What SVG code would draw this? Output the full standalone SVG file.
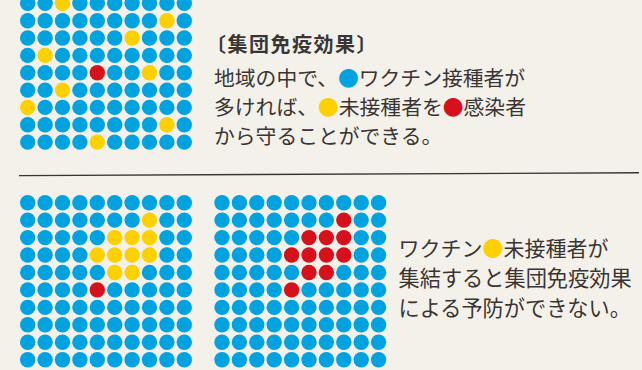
<svg xmlns="http://www.w3.org/2000/svg" width="642" height="370" viewBox="0 0 642 370">
<style>
.b{fill:#00a2e0}.y{fill:#fdd000}.r{fill:#d7111c}
.t{font-family:"Noto Sans CJK JP","Noto Sans CJK SC",sans-serif;fill:#3a3533}
.ttl{font-weight:700}
</style>
<rect width="642" height="370" fill="#f4f1ea"/>
<g id="grid-top">
<g transform="translate(0,3.3)"><circle class="b" cx="27.7" r="7.7"/><circle class="b" cx="45.1" r="7.7"/><circle class="y" cx="62.5" r="7.7"/><circle class="b" cx="79.9" r="7.7"/><circle class="b" cx="97.3" r="7.7"/><circle class="b" cx="114.7" r="7.7"/><circle class="b" cx="132.1" r="7.7"/><circle class="b" cx="149.5" r="7.7"/><circle class="b" cx="166.9" r="7.7"/><circle class="b" cx="184.3" r="7.7"/></g>
<g transform="translate(0,20.7)"><circle class="b" cx="27.7" r="7.7"/><circle class="b" cx="45.1" r="7.7"/><circle class="b" cx="62.5" r="7.7"/><circle class="b" cx="79.9" r="7.7"/><circle class="b" cx="97.3" r="7.7"/><circle class="b" cx="114.7" r="7.7"/><circle class="b" cx="132.1" r="7.7"/><circle class="b" cx="149.5" r="7.7"/><circle class="y" cx="166.9" r="7.7"/><circle class="b" cx="184.3" r="7.7"/></g>
<g transform="translate(0,38)"><circle class="b" cx="27.7" r="7.7"/><circle class="b" cx="45.1" r="7.7"/><circle class="b" cx="62.5" r="7.7"/><circle class="b" cx="79.9" r="7.7"/><circle class="b" cx="97.3" r="7.7"/><circle class="b" cx="114.7" r="7.7"/><circle class="y" cx="132.1" r="7.7"/><circle class="b" cx="149.5" r="7.7"/><circle class="b" cx="166.9" r="7.7"/><circle class="b" cx="184.3" r="7.7"/></g>
<g transform="translate(0,55.4)"><circle class="b" cx="27.7" r="7.7"/><circle class="y" cx="45.1" r="7.7"/><circle class="b" cx="62.5" r="7.7"/><circle class="b" cx="79.9" r="7.7"/><circle class="b" cx="97.3" r="7.7"/><circle class="b" cx="114.7" r="7.7"/><circle class="b" cx="132.1" r="7.7"/><circle class="b" cx="149.5" r="7.7"/><circle class="b" cx="166.9" r="7.7"/><circle class="b" cx="184.3" r="7.7"/></g>
<g transform="translate(0,72.7)"><circle class="b" cx="27.7" r="7.7"/><circle class="b" cx="45.1" r="7.7"/><circle class="b" cx="62.5" r="7.7"/><circle class="b" cx="79.9" r="7.7"/><circle class="r" cx="97.3" r="7.7"/><circle class="b" cx="114.7" r="7.7"/><circle class="b" cx="132.1" r="7.7"/><circle class="y" cx="149.5" r="7.7"/><circle class="b" cx="166.9" r="7.7"/><circle class="b" cx="184.3" r="7.7"/></g>
<g transform="translate(0,90.1)"><circle class="b" cx="27.7" r="7.7"/><circle class="b" cx="45.1" r="7.7"/><circle class="y" cx="62.5" r="7.7"/><circle class="b" cx="79.9" r="7.7"/><circle class="b" cx="97.3" r="7.7"/><circle class="b" cx="114.7" r="7.7"/><circle class="b" cx="132.1" r="7.7"/><circle class="b" cx="149.5" r="7.7"/><circle class="b" cx="166.9" r="7.7"/><circle class="b" cx="184.3" r="7.7"/></g>
<g transform="translate(0,107.4)"><circle class="y" cx="27.7" r="7.7"/><circle class="b" cx="45.1" r="7.7"/><circle class="b" cx="62.5" r="7.7"/><circle class="b" cx="79.9" r="7.7"/><circle class="b" cx="97.3" r="7.7"/><circle class="b" cx="114.7" r="7.7"/><circle class="b" cx="132.1" r="7.7"/><circle class="b" cx="149.5" r="7.7"/><circle class="b" cx="166.9" r="7.7"/><circle class="b" cx="184.3" r="7.7"/></g>
<g transform="translate(0,124.8)"><circle class="b" cx="27.7" r="7.7"/><circle class="b" cx="45.1" r="7.7"/><circle class="b" cx="62.5" r="7.7"/><circle class="b" cx="79.9" r="7.7"/><circle class="b" cx="97.3" r="7.7"/><circle class="b" cx="114.7" r="7.7"/><circle class="b" cx="132.1" r="7.7"/><circle class="b" cx="149.5" r="7.7"/><circle class="y" cx="166.9" r="7.7"/><circle class="b" cx="184.3" r="7.7"/></g>
<g transform="translate(0,142.1)"><circle class="b" cx="27.7" r="7.7"/><circle class="b" cx="45.1" r="7.7"/><circle class="b" cx="62.5" r="7.7"/><circle class="b" cx="79.9" r="7.7"/><circle class="y" cx="97.3" r="7.7"/><circle class="b" cx="114.7" r="7.7"/><circle class="b" cx="132.1" r="7.7"/><circle class="b" cx="149.5" r="7.7"/><circle class="b" cx="166.9" r="7.7"/><circle class="b" cx="184.3" r="7.7"/></g>
</g>
<g id="text-top" class="t">
<text class="ttl" x="206" y="52" font-size="20" letter-spacing="1.5">〔集団免疫効果〕</text>
<text x="214" y="85.5" font-size="20.8">地域の中で、<tspan class="b">●</tspan>ワクチン接種者が</text>
<text x="214" y="114.5" font-size="20.8">多ければ、<tspan class="y">●</tspan>未接種者を<tspan class="r">●</tspan>感染者</text>
<text x="214" y="143.5" font-size="20.8">から守ることができる。</text>
</g>
<line id="divider" x1="19" y1="175.6" x2="639" y2="172.8" stroke="#3a3533" stroke-width="1.4"/>
<g id="grid-bottom-left">
<g transform="translate(0,202.7)"><circle class="b" cx="27.7" r="7.7"/><circle class="b" cx="45.1" r="7.7"/><circle class="b" cx="62.5" r="7.7"/><circle class="b" cx="79.9" r="7.7"/><circle class="b" cx="97.3" r="7.7"/><circle class="b" cx="114.7" r="7.7"/><circle class="b" cx="132.1" r="7.7"/><circle class="b" cx="149.5" r="7.7"/><circle class="b" cx="166.9" r="7.7"/><circle class="b" cx="184.3" r="7.7"/></g>
<g transform="translate(0,220.1)"><circle class="b" cx="27.7" r="7.7"/><circle class="b" cx="45.1" r="7.7"/><circle class="b" cx="62.5" r="7.7"/><circle class="b" cx="79.9" r="7.7"/><circle class="b" cx="97.3" r="7.7"/><circle class="b" cx="114.7" r="7.7"/><circle class="b" cx="132.1" r="7.7"/><circle class="y" cx="149.5" r="7.7"/><circle class="b" cx="166.9" r="7.7"/><circle class="b" cx="184.3" r="7.7"/></g>
<g transform="translate(0,237.6)"><circle class="b" cx="27.7" r="7.7"/><circle class="b" cx="45.1" r="7.7"/><circle class="b" cx="62.5" r="7.7"/><circle class="b" cx="79.9" r="7.7"/><circle class="b" cx="97.3" r="7.7"/><circle class="y" cx="114.7" r="7.7"/><circle class="y" cx="132.1" r="7.7"/><circle class="y" cx="149.5" r="7.7"/><circle class="b" cx="166.9" r="7.7"/><circle class="b" cx="184.3" r="7.7"/></g>
<g transform="translate(0,255)"><circle class="b" cx="27.7" r="7.7"/><circle class="b" cx="45.1" r="7.7"/><circle class="b" cx="62.5" r="7.7"/><circle class="b" cx="79.9" r="7.7"/><circle class="y" cx="97.3" r="7.7"/><circle class="y" cx="114.7" r="7.7"/><circle class="y" cx="132.1" r="7.7"/><circle class="y" cx="149.5" r="7.7"/><circle class="b" cx="166.9" r="7.7"/><circle class="b" cx="184.3" r="7.7"/></g>
<g transform="translate(0,272.5)"><circle class="b" cx="27.7" r="7.7"/><circle class="b" cx="45.1" r="7.7"/><circle class="b" cx="62.5" r="7.7"/><circle class="b" cx="79.9" r="7.7"/><circle class="b" cx="97.3" r="7.7"/><circle class="y" cx="114.7" r="7.7"/><circle class="y" cx="132.1" r="7.7"/><circle class="b" cx="149.5" r="7.7"/><circle class="b" cx="166.9" r="7.7"/><circle class="b" cx="184.3" r="7.7"/></g>
<g transform="translate(0,289.9)"><circle class="b" cx="27.7" r="7.7"/><circle class="b" cx="45.1" r="7.7"/><circle class="b" cx="62.5" r="7.7"/><circle class="b" cx="79.9" r="7.7"/><circle class="r" cx="97.3" r="7.7"/><circle class="b" cx="114.7" r="7.7"/><circle class="b" cx="132.1" r="7.7"/><circle class="b" cx="149.5" r="7.7"/><circle class="b" cx="166.9" r="7.7"/><circle class="b" cx="184.3" r="7.7"/></g>
<g transform="translate(0,307.4)"><circle class="b" cx="27.7" r="7.7"/><circle class="b" cx="45.1" r="7.7"/><circle class="b" cx="62.5" r="7.7"/><circle class="b" cx="79.9" r="7.7"/><circle class="b" cx="97.3" r="7.7"/><circle class="b" cx="114.7" r="7.7"/><circle class="b" cx="132.1" r="7.7"/><circle class="b" cx="149.5" r="7.7"/><circle class="b" cx="166.9" r="7.7"/><circle class="b" cx="184.3" r="7.7"/></g>
<g transform="translate(0,324.8)"><circle class="b" cx="27.7" r="7.7"/><circle class="b" cx="45.1" r="7.7"/><circle class="b" cx="62.5" r="7.7"/><circle class="b" cx="79.9" r="7.7"/><circle class="b" cx="97.3" r="7.7"/><circle class="b" cx="114.7" r="7.7"/><circle class="b" cx="132.1" r="7.7"/><circle class="b" cx="149.5" r="7.7"/><circle class="b" cx="166.9" r="7.7"/><circle class="b" cx="184.3" r="7.7"/></g>
<g transform="translate(0,342.2)"><circle class="b" cx="27.7" r="7.7"/><circle class="b" cx="45.1" r="7.7"/><circle class="b" cx="62.5" r="7.7"/><circle class="b" cx="79.9" r="7.7"/><circle class="b" cx="97.3" r="7.7"/><circle class="b" cx="114.7" r="7.7"/><circle class="b" cx="132.1" r="7.7"/><circle class="b" cx="149.5" r="7.7"/><circle class="b" cx="166.9" r="7.7"/><circle class="b" cx="184.3" r="7.7"/></g>
<g transform="translate(0,359.7)"><circle class="b" cx="27.7" r="7.7"/><circle class="b" cx="45.1" r="7.7"/><circle class="b" cx="62.5" r="7.7"/><circle class="b" cx="79.9" r="7.7"/><circle class="b" cx="97.3" r="7.7"/><circle class="b" cx="114.7" r="7.7"/><circle class="b" cx="132.1" r="7.7"/><circle class="b" cx="149.5" r="7.7"/><circle class="b" cx="166.9" r="7.7"/><circle class="b" cx="184.3" r="7.7"/></g>
</g>
<g id="grid-bottom-right" transform="translate(194.3,0)">
<g transform="translate(0,202.7)"><circle class="b" cx="27.7" r="7.7"/><circle class="b" cx="45.1" r="7.7"/><circle class="b" cx="62.5" r="7.7"/><circle class="b" cx="79.9" r="7.7"/><circle class="b" cx="97.3" r="7.7"/><circle class="b" cx="114.7" r="7.7"/><circle class="b" cx="132.1" r="7.7"/><circle class="b" cx="149.5" r="7.7"/><circle class="b" cx="166.9" r="7.7"/><circle class="b" cx="184.3" r="7.7"/></g>
<g transform="translate(0,220.1)"><circle class="b" cx="27.7" r="7.7"/><circle class="b" cx="45.1" r="7.7"/><circle class="b" cx="62.5" r="7.7"/><circle class="b" cx="79.9" r="7.7"/><circle class="b" cx="97.3" r="7.7"/><circle class="b" cx="114.7" r="7.7"/><circle class="b" cx="132.1" r="7.7"/><circle class="r" cx="149.5" r="7.7"/><circle class="b" cx="166.9" r="7.7"/><circle class="b" cx="184.3" r="7.7"/></g>
<g transform="translate(0,237.6)"><circle class="b" cx="27.7" r="7.7"/><circle class="b" cx="45.1" r="7.7"/><circle class="b" cx="62.5" r="7.7"/><circle class="b" cx="79.9" r="7.7"/><circle class="b" cx="97.3" r="7.7"/><circle class="r" cx="114.7" r="7.7"/><circle class="r" cx="132.1" r="7.7"/><circle class="r" cx="149.5" r="7.7"/><circle class="b" cx="166.9" r="7.7"/><circle class="b" cx="184.3" r="7.7"/></g>
<g transform="translate(0,255)"><circle class="b" cx="27.7" r="7.7"/><circle class="b" cx="45.1" r="7.7"/><circle class="b" cx="62.5" r="7.7"/><circle class="b" cx="79.9" r="7.7"/><circle class="r" cx="97.3" r="7.7"/><circle class="r" cx="114.7" r="7.7"/><circle class="r" cx="132.1" r="7.7"/><circle class="r" cx="149.5" r="7.7"/><circle class="b" cx="166.9" r="7.7"/><circle class="b" cx="184.3" r="7.7"/></g>
<g transform="translate(0,272.5)"><circle class="b" cx="27.7" r="7.7"/><circle class="b" cx="45.1" r="7.7"/><circle class="b" cx="62.5" r="7.7"/><circle class="b" cx="79.9" r="7.7"/><circle class="b" cx="97.3" r="7.7"/><circle class="r" cx="114.7" r="7.7"/><circle class="r" cx="132.1" r="7.7"/><circle class="b" cx="149.5" r="7.7"/><circle class="b" cx="166.9" r="7.7"/><circle class="b" cx="184.3" r="7.7"/></g>
<g transform="translate(0,289.9)"><circle class="b" cx="27.7" r="7.7"/><circle class="b" cx="45.1" r="7.7"/><circle class="b" cx="62.5" r="7.7"/><circle class="b" cx="79.9" r="7.7"/><circle class="r" cx="97.3" r="7.7"/><circle class="b" cx="114.7" r="7.7"/><circle class="b" cx="132.1" r="7.7"/><circle class="b" cx="149.5" r="7.7"/><circle class="b" cx="166.9" r="7.7"/><circle class="b" cx="184.3" r="7.7"/></g>
<g transform="translate(0,307.4)"><circle class="b" cx="27.7" r="7.7"/><circle class="b" cx="45.1" r="7.7"/><circle class="b" cx="62.5" r="7.7"/><circle class="b" cx="79.9" r="7.7"/><circle class="b" cx="97.3" r="7.7"/><circle class="b" cx="114.7" r="7.7"/><circle class="b" cx="132.1" r="7.7"/><circle class="b" cx="149.5" r="7.7"/><circle class="b" cx="166.9" r="7.7"/><circle class="b" cx="184.3" r="7.7"/></g>
<g transform="translate(0,324.8)"><circle class="b" cx="27.7" r="7.7"/><circle class="b" cx="45.1" r="7.7"/><circle class="b" cx="62.5" r="7.7"/><circle class="b" cx="79.9" r="7.7"/><circle class="b" cx="97.3" r="7.7"/><circle class="b" cx="114.7" r="7.7"/><circle class="b" cx="132.1" r="7.7"/><circle class="b" cx="149.5" r="7.7"/><circle class="b" cx="166.9" r="7.7"/><circle class="b" cx="184.3" r="7.7"/></g>
<g transform="translate(0,342.2)"><circle class="b" cx="27.7" r="7.7"/><circle class="b" cx="45.1" r="7.7"/><circle class="b" cx="62.5" r="7.7"/><circle class="b" cx="79.9" r="7.7"/><circle class="b" cx="97.3" r="7.7"/><circle class="b" cx="114.7" r="7.7"/><circle class="b" cx="132.1" r="7.7"/><circle class="b" cx="149.5" r="7.7"/><circle class="b" cx="166.9" r="7.7"/><circle class="b" cx="184.3" r="7.7"/></g>
<g transform="translate(0,359.7)"><circle class="b" cx="27.7" r="7.7"/><circle class="b" cx="45.1" r="7.7"/><circle class="b" cx="62.5" r="7.7"/><circle class="b" cx="79.9" r="7.7"/><circle class="b" cx="97.3" r="7.7"/><circle class="b" cx="114.7" r="7.7"/><circle class="b" cx="132.1" r="7.7"/><circle class="b" cx="149.5" r="7.7"/><circle class="b" cx="166.9" r="7.7"/><circle class="b" cx="184.3" r="7.7"/></g>
</g>
<g id="text-bottom" class="t">
<text x="398.5" y="255.5" font-size="21">ワクチン<tspan class="y">●</tspan>未接種者が</text>
<text x="398.5" y="285.5" font-size="21.2">集結すると集団免疫効果</text>
<text x="398.5" y="315.5" font-size="21.2">による予防ができない。</text>
</g>
</svg>
